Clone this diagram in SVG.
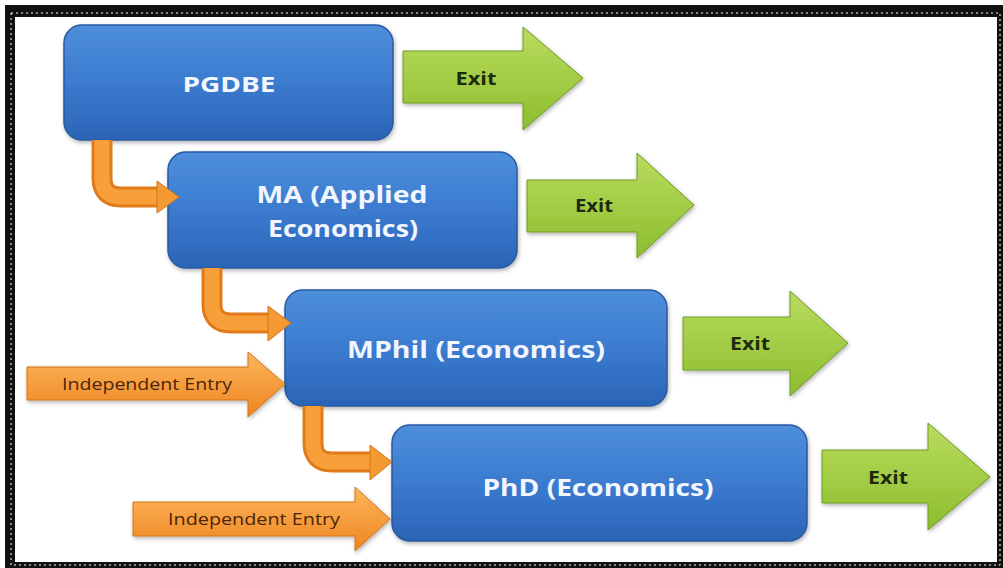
<svg xmlns="http://www.w3.org/2000/svg" width="1003" height="568" viewBox="0 0 1003 568">
<defs>
<linearGradient id="gBlue" x1="0" y1="0" x2="0" y2="1">
<stop offset="0" stop-color="#4e8fdc"/>
<stop offset="0.5" stop-color="#3b7bcf"/>
<stop offset="1" stop-color="#2b64b6"/>
</linearGradient>
<linearGradient id="gGreen" x1="0" y1="0" x2="0" y2="1">
<stop offset="0" stop-color="#b9dc5e"/>
<stop offset="1" stop-color="#8dbd2e"/>
</linearGradient>
<linearGradient id="gOrange" x1="0" y1="0" x2="0" y2="1">
<stop offset="0" stop-color="#fcb65c"/>
<stop offset="1" stop-color="#ef8420"/>
</linearGradient>
<filter id="sh" x="-10%" y="-10%" width="120%" height="130%">
<feDropShadow dx="1" dy="2" stdDeviation="2" flood-color="#000" flood-opacity="0.3"/>
</filter>
</defs>
<style>
.box{fill:url(#gBlue);stroke:#2a5a9e;stroke-width:1.5;filter:url(#sh)}
.bt{font-family:"Open Sans","Liberation Sans",sans-serif;font-weight:bold;fill:#f2f6ff;text-anchor:middle}
.ex{fill:url(#gGreen);stroke:#6f9a22;stroke-width:1;filter:url(#sh)}
.et{font-family:"Open Sans","Liberation Sans",sans-serif;font-weight:bold;font-size:17px;fill:#1e2a0c;text-anchor:middle}
.en{fill:url(#gOrange);stroke:#d37416;stroke-width:1;filter:url(#sh)}
.nt{font-family:"Open Sans","Liberation Sans",sans-serif;font-size:16px;fill:#4a2608;text-anchor:middle}
.elb{fill:none;stroke:#e07a1a;stroke-width:21}
.elbi{fill:none;stroke:#f7a03a;stroke-width:15}
.hd{fill:#f39a33;stroke:#d37416;stroke-width:1}
</style>
<rect x="0" y="0" width="1003" height="568" fill="#ffffff"/>
<g id="frame">
<path d="M5,5 H1003 V568 H5 Z M15,17 V562 H997 V17 Z" fill="#111" fill-rule="evenodd"/>
<rect x="11" y="13" width="989" height="552" fill="none" stroke="#fff" stroke-width="1" stroke-dasharray="2 3"/>
</g>
<g id="pgdbe">
<rect class="box" x="64" y="25" width="329" height="115" rx="18"/>
<text class="bt" x="229" y="92" font-size="22" textLength="93" lengthAdjust="spacingAndGlyphs">PGDBE</text>
</g>
<g id="ma">
<rect class="box" x="168" y="152" width="349" height="116" rx="18"/>
<text class="bt" x="342" y="203" font-size="23" textLength="171" lengthAdjust="spacingAndGlyphs">MA (Applied</text>
<text class="bt" x="343" y="237" font-size="23" textLength="150" lengthAdjust="spacingAndGlyphs">Economics)</text>
</g>
<g id="mphil">
<rect class="box" x="285" y="290" width="382" height="116" rx="18"/>
<text class="bt" x="476" y="358" font-size="23" textLength="258" lengthAdjust="spacingAndGlyphs">MPhil (Economics)</text>
</g>
<g id="phd">
<rect class="box" x="392" y="425" width="415" height="116" rx="18"/>
<text class="bt" x="598" y="496" font-size="23" textLength="231" lengthAdjust="spacingAndGlyphs">PhD (Economics)</text>
</g>
<g id="exit1">
<polygon class="ex" points="403,51 523,51 523,27 583,78 523,130 523,103 403,103"/>
<text class="et" x="476" y="85" textLength="41" lengthAdjust="spacingAndGlyphs">Exit</text>
</g>
<g id="exit2">
<polygon class="ex" points="527,180 637,180 637,153 694,205 637,258 637,232 527,232"/>
<text class="et" x="594" y="212" textLength="38" lengthAdjust="spacingAndGlyphs">Exit</text>
</g>
<g id="exit3">
<polygon class="ex" points="683,317 790,317 790,291 848,343 790,396 790,370 683,370"/>
<text class="et" x="750" y="350" textLength="40" lengthAdjust="spacingAndGlyphs">Exit</text>
</g>
<g id="exit4">
<polygon class="ex" points="822,450 928,450 928,423 990,477 928,530 928,503 822,503"/>
<text class="et" x="888" y="484" textLength="40" lengthAdjust="spacingAndGlyphs">Exit</text>
</g>
<g id="entry1">
<polygon class="en" points="27,367 248,367 248,352 285,384 248,417 248,400 27,400"/>
<text class="nt" x="147" y="390" textLength="170" lengthAdjust="spacingAndGlyphs">Independent Entry</text>
</g>
<g id="entry2">
<polygon class="en" points="133,502 355,502 355,487 390,519 355,551 355,536 133,536"/>
<text class="nt" x="254" y="525" textLength="172" lengthAdjust="spacingAndGlyphs">Independent Entry</text>
</g>
<g id="connectors">
<path class="elb" d="M102,140 V178 Q102,197 121,197 H159"/>
<path class="elbi" d="M102,140 V178 Q102,197 121,197 H159"/>
<polygon class="hd" points="157,181 179,197 157,213"/>
<path class="elb" d="M212,268 V304 Q212,323 231,323 H270"/>
<path class="elbi" d="M212,268 V304 Q212,323 231,323 H270"/>
<polygon class="hd" points="268,306 291,323 268,341"/>
<path class="elb" d="M313,406 V443 Q313,462 332,462 H372"/>
<path class="elbi" d="M313,406 V443 Q313,462 332,462 H372"/>
<polygon class="hd" points="370,445 392,462 370,480"/>
</g>
</svg>
